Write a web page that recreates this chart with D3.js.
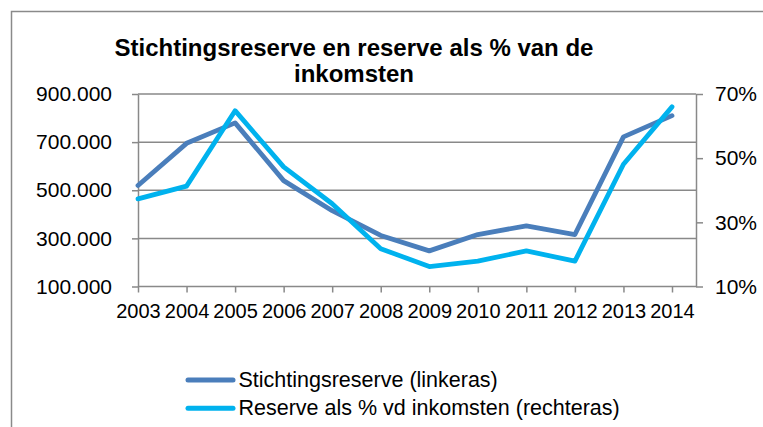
<!DOCTYPE html>
<html>
<head>
<meta charset="utf-8">
<script src="https://cdn.jsdelivr.net/npm/d3@7"></script>
<style>
  html, body { margin: 0; padding: 0; background: #fff; }
  svg { display: block; font-family: "Liberation Sans", Arial, sans-serif; }
</style>
</head>
<body>
<svg id="chart" width="763" height="427"></svg>
<script>
// ---- data ----
const years = ["2003","2004","2005","2006","2007","2008","2009","2010","2011","2012","2013","2014"];
const stichtingsreserve = [520000, 695000, 780000, 540000, 415000, 312000, 248000, 316000, 352000, 316000, 722000, 810000];
const reservePct = [37.3, 41.3, 64.8, 47.3, 35.8, 21.8, 16.2, 17.9, 21.1, 17.9, 48.1, 66.0];
const leftTicks = [100000, 300000, 500000, 700000, 900000];
const rightTicks = [10, 30, 50, 70];
const titleLines = ["Stichtingsreserve en reserve als % van de", "inkomsten"];
const seriesNames = ["Stichtingsreserve (linkeras)", "Reserve als % vd inkomsten (rechteras)"];
const seriesColors = ["#4A7EBB", "#00B2EE"];

// ---- layout ----
const svg = d3.select("#chart");
const plotLeft = 138, plotRight = 696, plotTop = 94, plotBottom = 286.5;
const gridColor = "#898989";

const x = d3.scalePoint().domain(years).range([plotLeft, 672]);
const yL = d3.scaleLinear().domain([100000, 900000]).range([plotBottom, plotTop]);
const yR = d3.scaleLinear().domain([10, 70]).range([plotBottom, plotTop]);

const nl = d3.formatLocale({decimal: ",", thousands: ".", grouping: [3], currency: ["€", ""]});
const fmtL = nl.format(",.0f");

// outer border (cropped: top and left visible)
svg.append("path")
  .attr("d", `M11.5,427 L11.5,11.5 L763,11.5`)
  .attr("fill", "none").attr("stroke", "#8a8a8a").attr("stroke-width", 1.5);

// title
const title = svg.append("text")
  .attr("text-anchor", "middle")
  .attr("font-weight", "bold")
  .attr("font-size", 24)
  .attr("fill", "#000");
titleLines.forEach((t, i) => {
  title.append("tspan").attr("x", 354).attr("y", 56 + i * 25.7).text(t);
});

// gridlines
svg.append("g").selectAll("line")
  .data(leftTicks.filter(d => d > 100000))
  .join("line")
  .attr("x1", plotLeft).attr("x2", plotRight)
  .attr("y1", d => yL(d)).attr("y2", d => yL(d))
  .attr("stroke", gridColor).attr("stroke-width", 1.5);

// left axis
const gL = svg.append("g").attr("transform", `translate(${plotLeft},0)`)
  .call(d3.axisLeft(yL).tickValues(leftTicks).tickFormat(fmtL).tickSize(6).tickSizeOuter(0).tickPadding(20));
// right axis
const gR = svg.append("g").attr("transform", `translate(${plotRight},0)`)
  .call(d3.axisRight(yR).tickValues(rightTicks).tickFormat(d => d + "%").tickSize(7).tickSizeOuter(0).tickPadding(12));
// bottom axis
const gB = svg.append("g").attr("transform", `translate(0,${plotBottom})`)
  .call(d3.axisBottom(x).tickSize(6).tickSizeOuter(0).tickPadding(11.3));
gB.select(".domain").remove();
svg.append("line")
  .attr("x1", plotLeft).attr("x2", plotRight)
  .attr("y1", plotBottom).attr("y2", plotBottom)
  .attr("stroke", gridColor).attr("stroke-width", 1.5);

[gL, gR, gB].forEach(g => {
  g.selectAll(".domain").attr("stroke", gridColor).attr("stroke-width", 1.5);
  g.selectAll(".tick line").attr("stroke", gridColor).attr("stroke-width", 1.5);
  g.selectAll(".tick text").attr("fill", "#000").attr("font-family", "'Liberation Sans', Arial, sans-serif");
});
gL.selectAll(".tick text").attr("font-size", 21);
gR.selectAll(".tick text").attr("font-size", 21);
gB.selectAll(".tick text").attr("font-size", 20);

// lines
const lineL = d3.line().x((d, i) => x(years[i])).y(d => yL(d));
const lineR = d3.line().x((d, i) => x(years[i])).y(d => yR(d));

svg.append("path").datum(stichtingsreserve)
  .attr("d", lineL).attr("fill", "none")
  .attr("stroke", seriesColors[0]).attr("stroke-width", 4.8)
  .attr("stroke-linejoin", "round").attr("stroke-linecap", "round");
svg.append("path").datum(reservePct)
  .attr("d", lineR).attr("fill", "none")
  .attr("stroke", seriesColors[1]).attr("stroke-width", 4.8)
  .attr("stroke-linejoin", "round").attr("stroke-linecap", "round");

// legend
const legend = svg.append("g");
seriesNames.forEach((name, i) => {
  const yy = 380 + i * 28.3;
  legend.append("line")
    .attr("x1", 188).attr("x2", 233).attr("y1", yy).attr("y2", yy)
    .attr("stroke", seriesColors[i]).attr("stroke-width", 5).attr("stroke-linecap", "round");
  legend.append("text")
    .attr("x", 238.5).attr("y", yy + 7)
    .attr("font-size", 21.5).attr("fill", "#000")
    .text(name);
});
</script>
</body>
</html>
